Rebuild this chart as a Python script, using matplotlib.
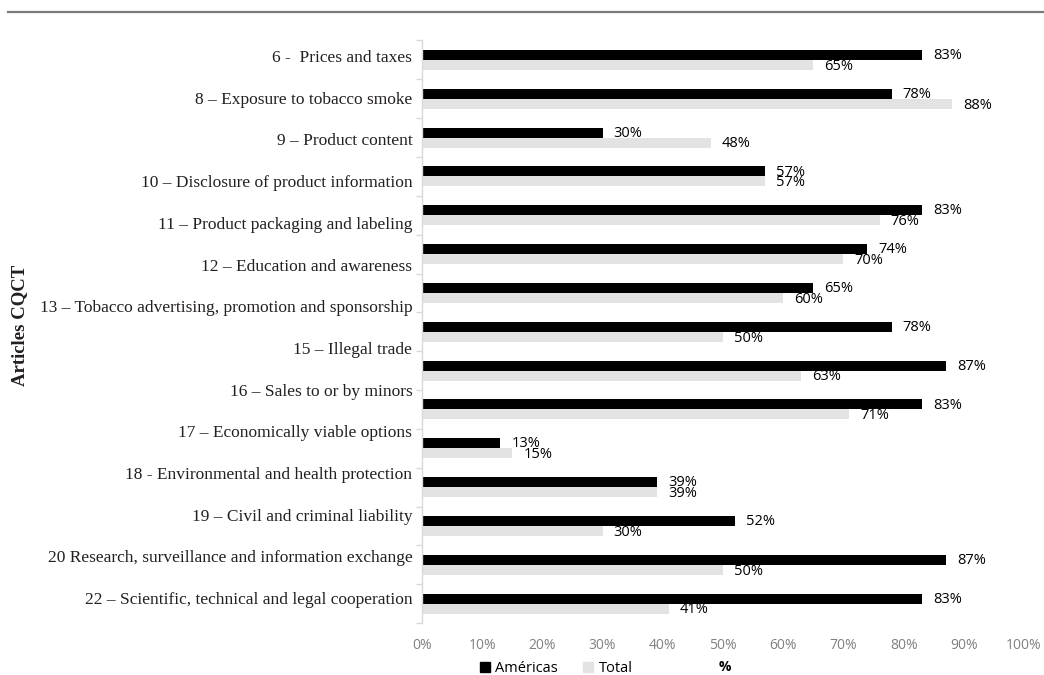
import numpy as np
import matplotlib
matplotlib.use("Agg")
import matplotlib.pyplot as plt
from matplotlib.lines import Line2D

# ---- data ----
bar_rows = 15
americas = [83, 78, 30, 57, 83, 74, 65, 78, 87, 83, 13, 39, 52, 87, 83]
total = [65, 88, 48, 57, 76, 70, 60, 50, 63, 71, 15, 39, 30, 50, 41]
categories = [
    "6 -  Prices and taxes",
    "8 \u2013 Exposure to tobacco smoke",
    "9 \u2013 Product content",
    "10 \u2013 Disclosure of product information",
    "11 \u2013 Product packaging and labeling",
    "12 \u2013 Education and awareness",
    "13 \u2013 Tobacco advertising, promotion and sponsorship",
    "15 \u2013 Illegal trade",
    "16 \u2013 Sales to or by minors",
    "17 \u2013 Economically viable options",
    "18 - Environmental and health protection",
    "19 \u2013 Civil and criminal liability",
    "20 Research, surveillance and information exchange",
    "22 \u2013 Scientific, technical and legal cooperation",
]
xticks = [0, 10, 20, 30, 40, 50, 60, 70, 80, 90, 100]
series_names = ["Am\u00e9ricas", "Total"]

W, H = 1044, 675
fig = plt.figure(figsize=(W / 100, H / 100), dpi=100)

x0, x1 = 422, 1024
y_top, y_bot = 40.5, 623
ax = fig.add_axes([x0 / W, 1 - y_bot / H, (x1 - x0) / W, (y_bot - y_top) / H])

c_black = "#000000"
c_gray = "#e3e3e3"
bh = 0.2575
pos = np.arange(bar_rows)
ax.barh(pos - bh / 2, americas, height=bh, color=c_black, zorder=2)
ax.barh(pos + bh / 2, total, height=bh, color=c_gray, zorder=2)

for i in range(bar_rows):
    ax.annotate(f"{americas[i]}%", (americas[i], pos[i] - bh / 2), xytext=(8, -0.5),
                textcoords="offset points", va="center", ha="left",
                fontsize=10.5, family="Open Sans", color="#000000")
    ax.annotate(f"{total[i]}%", (total[i], pos[i] + bh / 2), xytext=(8, -1),
                textcoords="offset points", va="center", ha="left",
                fontsize=10.5, family="Open Sans", color="#000000")

ax.set_xlim(0, 100)
ax.set_ylim(bar_rows - 0.5, -0.5)
ax.set_xticks(xticks)
ax.set_xticklabels([f"{v}%" for v in xticks], fontsize=10, family="Open Sans", color="#808080")
ax.tick_params(axis="x", length=0, pad=11)
ax.set_yticks(np.arange(-0.5, bar_rows, 1))
ax.set_yticklabels([])
ax.tick_params(axis="y", length=4, color="#d9d9d9", width=1)
for s in ["top", "right", "bottom"]:
    ax.spines[s].set_visible(False)
ax.spines["left"].set_color("#d9d9d9")
ax.spines["left"].set_linewidth(1)

# category labels on their own scale
ax2 = ax.twinx()
n = len(categories)
first, step = 56.0, 41.7
h = y_bot - y_top
top_v = -(first - y_top) / step
bot_v = (h - (first - y_top)) / step
ax2.set_ylim(bot_v, top_v)
ax2.yaxis.set_ticks_position("left")
ax2.yaxis.set_label_position("left")
ax2.set_yticks(np.arange(n))
ax2.set_yticklabels(categories, fontsize=12.5, family="Liberation Serif", color="#231f20")
ax2.tick_params(axis="y", length=0, pad=7)
for s in ax2.spines.values():
    s.set_visible(False)

fig.text(20 / W, 1 - 325 / H, "Articles CQCT", rotation=90, ha="center", va="center",
         fontsize=13.5, fontweight="bold", family="Liberation Serif", color="#231f20")

fig.text(725 / W, 1 - 667 / H, "%", ha="center", va="center",
         fontsize=10, fontweight="bold", family="Open Sans", color="#000000")

handles = [Line2D([], [], marker="s", linestyle="none", markersize=7.5, color=c_black),
           Line2D([], [], marker="s", linestyle="none", markersize=7.5, color=c_gray)]
fig.legend(handles, series_names, loc="center", bbox_to_anchor=(555 / W, 1 - 669 / H),
           ncol=2, frameon=False, prop={"family": "Open Sans", "size": 10.5},
           handletextpad=0.2, columnspacing=1.6, handlelength=1.0, borderpad=0)

fig.add_artist(Line2D([8 / W, 1], [1 - 12 / H, 1 - 12 / H], color="#7a7a7a", linewidth=1.6,
                      transform=fig.transFigure))

fig.savefig("out.png", dpi=100)
